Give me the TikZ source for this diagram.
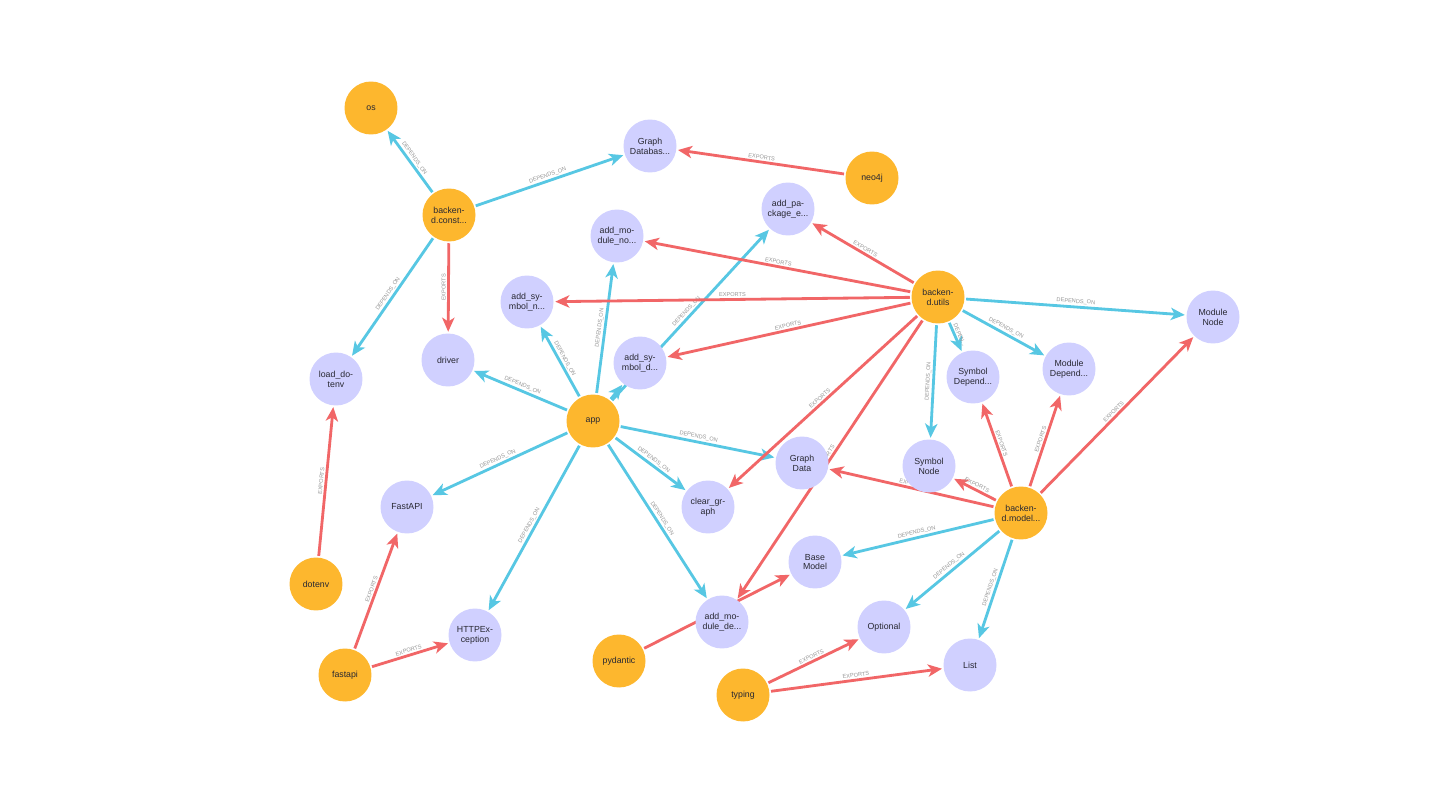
\documentclass[tikz,border=0pt]{standalone}
\usepackage{fontspec}
\setmainfont{Liberation Sans}
\usetikzlibrary{arrows.meta}

\definecolor{modorange}{RGB}{253,183,46}
\definecolor{symlilac}{RGB}{208,208,255}
\definecolor{depblue}{RGB}{87,199,227}
\definecolor{expred}{RGB}{241,102,103}
\definecolor{lblgray}{RGB}{150,150,150}
\definecolor{txtdark}{RGB}{40,40,50}

\pgfdeclarelayer{edges}
\pgfsetlayers{edges,main}

\begin{document}
\begin{tikzpicture}[x=0.02cm,y=-0.02cm,>={Stealth[length=8pt,width=7pt,inset=2.2pt]},
	pkg/.style={circle,fill=modorange,minimum size=1.06cm,inner sep=0pt,outer sep=1pt,align=center,text=txtdark,font=\fontsize{5}{5.6}\selectfont},
	sym/.style={pkg,fill=symlilac},
	dep/.style={->,draw=depblue,line width=1.6pt},
	exp/.style={->,draw=expred,line width=1.6pt},
	lbl/.style={sloped,above,midway,inner sep=0.8pt,text=lblgray,font=\fontsize{3.2}{3.2}\selectfont}]
			
			\useasboundingbox (0,0) rectangle (1440,787);
			
			% packages and modules
			\node[pkg] (os) at (371,108){os};
			\node[pkg] (bconst) at (449,215){backen-\\d.const...};
			\node[pkg] (neoj) at (872,178){neo4j};
			\node[pkg] (butils) at (938,297){backen-\\d.utils};
			\node[pkg] (app) at (593,421){app};
			\node[pkg] (bmodel) at (1021,513){backen-\\d.model...};
			\node[pkg] (dotenv) at (316,584){dotenv};
			\node[pkg] (fastapi) at (345,675){fastapi};
			\node[pkg] (pydantic) at (619,661){pydantic};
			\node[pkg] (typing) at (743,695){typing};
			
			% exported symbols
			\node[sym] (graphdb) at (650,146){Graph\\Databas...};
			\node[sym] (addpkg) at (788,209){add\_pa-\\ckage\_e...};
			\node[sym] (addmodno) at (617,236){add\_mo-\\dule\_no...};
			\node[sym] (addsymn) at (527,302){add\_sy-\\mbol\_n...};
			\node[sym] (addsymd) at (640,363){add\_sy-\\mbol\_d...};
			\node[sym] (driver) at (448,360){driver};
			\node[sym] (loaddotenv) at (336,379){load\_do-\\tenv};
			\node[sym] (modnode) at (1213,317){Module\\Node};
			\node[sym] (symdep) at (973,377){Symbol\\Depend...};
			\node[sym] (moddep) at (1069,369){Module\\Depend...};
			\node[sym] (symnode) at (929,466){Symbol\\Node};
			\node[sym] (graphdata) at (802,463){Graph\\Data};
			\node[sym] (cleargraph) at (708,507){clear\_gr-\\aph};
			\node[sym] (fastapicls) at (407,507){FastAPI};
			\node[sym] (basemodel) at (815,562){Base\\Model};
			\node[sym] (httpexc) at (475,635){HTTPEx-\\ception};
			\node[sym] (addmodde) at (722,622){add\_mo-\\dule\_de...};
			\node[sym] (optional) at (884,627){Optional};
			\node[sym] (list) at (970,665){List};
			
			\begin{pgfonlayer}{edges}
			\fill[white] (0,0) rectangle (1440,787);
			
			\foreach \a/\b in {bconst/os,bconst/graphdb,bconst/loaddotenv,app/addsymn,app/addmodno,app/addpkg,app/driver,app/fastapicls,app/httpexc,app/graphdata,app/cleargraph,app/addmodde,butils/modnode,butils/moddep,butils/symnode,bmodel/basemodel,bmodel/optional,bmodel/list}
			{
				\draw[dep] (\a) -- node[lbl]{DEPENDS\_ON} (\b);
			}
			
			\draw[dep] (app) -- (addsymd);
			\draw[dep] (butils) -- node[lbl]{DEPEN...} (symdep);
			
			\foreach \a/\b in {bconst/driver,neoj/graphdb,butils/addpkg,butils/addmodno,butils/addsymn,butils/addsymd,butils/cleargraph,butils/addmodde,bmodel/symdep,bmodel/moddep,bmodel/modnode,bmodel/symnode,bmodel/graphdata,dotenv/loaddotenv,fastapi/fastapicls,fastapi/httpexc,typing/optional,typing/list}
			{
				\draw[exp] (\a) -- node[lbl]{EXPORTS} (\b);
			}
			
			% label of this one sits behind add_module_de
			\draw[exp] (pydantic) -- (basemodel);
			\end{pgfonlayer}
			
		\end{tikzpicture}
\end{document}
